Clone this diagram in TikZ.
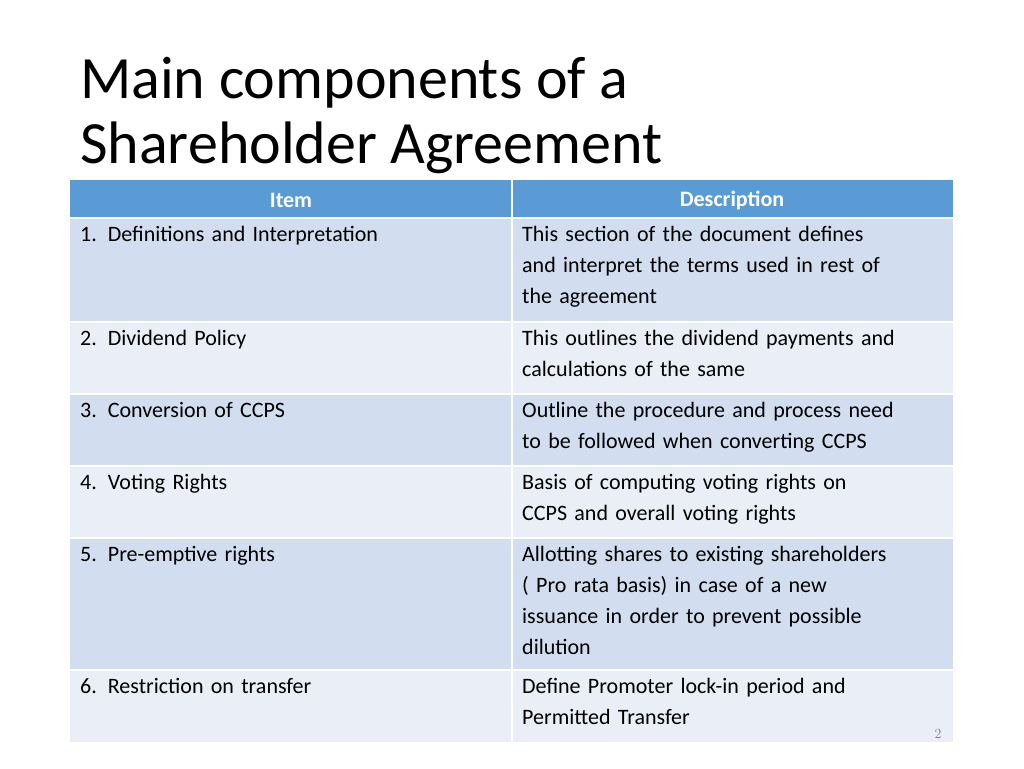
\documentclass[tikz,border=0pt]{standalone}
\usepackage{fontspec}
\setmainfont{Carlito}
\definecolor{hdr}{HTML}{5B9BD5}
\definecolor{rowA}{HTML}{D2DEEF}
\definecolor{rowB}{HTML}{EAEFF7}
\begin{document}
\begin{tikzpicture}[x=1pt,y=-1pt,
  cell/.style={anchor=north west,inner sep=0pt,text width=425pt,align=left,font=\fontsize{22}{31}\selectfont},
  hcell/.style={anchor=center,inner sep=0pt,font=\fontsize{22}{26}\selectfont\bfseries,text=white}]
\useasboundingbox (0,0) rectangle (1024,768);
\fill[white] (0,0) rectangle (1024,768);
\node[anchor=west,inner sep=0pt,align=left,font=\fontsize{60}{65}\selectfont] (title) at (80,116) {Main components of a\\Shareholder Agreement};
% header
\fill[hdr] (70,180) rectangle (953,218);
\draw[white,line width=2pt] (512,180) -- (512,218);
\node[hcell] (h1) at (291,200) {Item};
\node[hcell] (h2) at (732,200) {Description};
% rows
\foreach \t/\b/\c in {218/322/rowA,322/394/rowB,394/466/rowA,466/538/rowB,538/670/rowA,670/742/rowB}{
  \fill[\c] (70,\t) rectangle (953,\b);
  \draw[white,line width=2pt] (70,\t) -- (953,\t);
  \draw[white,line width=2pt] (512,\t) -- (512,\b);
}
\node[cell] (a1) at (80,226) {1. Definitions and Interpretation};
\node[cell] (b1) at (522,226) {This section of the document defines\\and interpret the terms used in rest of\\the agreement};
\node[cell] (a2) at (80,330) {2. Dividend Policy};
\node[cell] (b2) at (522,330) {This outlines the dividend payments and\\calculations of the same};
\node[cell] (a3) at (80,402) {3. Conversion of CCPS};
\node[cell] (b3) at (522,402) {Outline the procedure and process need\\to be followed when converting CCPS};
\node[cell] (a4) at (80,474) {4. Voting Rights};
\node[cell] (b4) at (522,474) {Basis of computing voting rights on\\CCPS and overall voting rights};
\node[cell] (a5) at (80,546) {5. Pre-emptive rights};
\node[cell] (b5) at (522,546) {Allotting shares to existing shareholders\\( Pro rata basis) in case of a new\\issuance in order to prevent possible\\dilution};
\node[cell] (a6) at (80,678) {6. Restriction on transfer};
\node[cell] (b6) at (522,678) {Define Promoter lock-in period and\\Permitted Transfer};
\node[font=\fontfamily{lmr}\selectfont\fontsize{14}{16}\selectfont,text=gray] (pg) at (938,734) {2};
\end{tikzpicture}
\end{document}
